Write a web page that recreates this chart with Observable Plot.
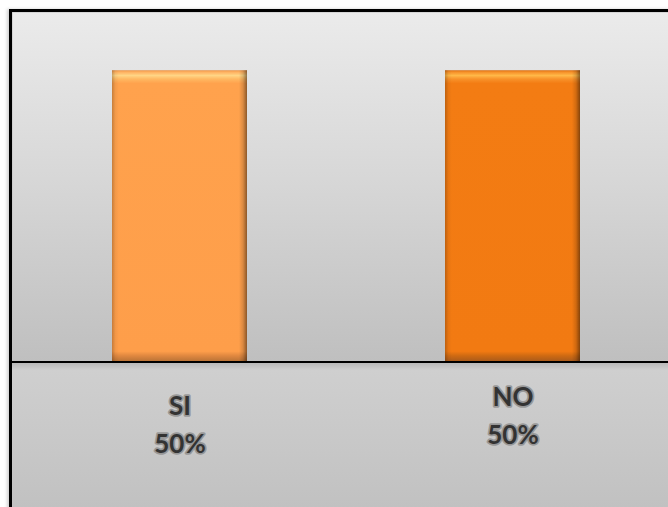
<!DOCTYPE html>
<html>
<head>
<meta charset="utf-8">
<script src="https://cdn.jsdelivr.net/npm/d3@7"></script>
<script src="https://cdn.jsdelivr.net/npm/@observablehq/plot@0.6"></script>
<style>
  html, body { margin: 0; padding: 0; background: #fff; }
  #page { position: relative; width: 668px; height: 507px; overflow: hidden; background: #fff; }
  #floor {
    position: absolute; left: 9px; top: 9px; width: 690px; height: 520px;
    border-left: 3px solid #000; border-top: 3px solid #000;
    box-shadow: -2px 0 3px rgba(0,0,0,0.18);
    background: linear-gradient(to bottom, #c0c0c0 0px, #c0c0c0 350px, #b9b9b9 351px, #cfcfcf 358px, #c9c9c9 420px, #c1c1c1 496px);
  }
  #chart { position: absolute; left: 0; top: 0; }
</style>
</head>
<body>
<div id="page">
  <div id="floor"></div>
  <div id="chart"></div>
</div>
<script>
const categories = ["SI", "NO"];
const values = [50, 50];
const valueLabels = ["50%", "50%"];

const data = categories.map((c, i) => ({category: c, value: values[i], label: c + "\n" + valueLabels[i]}));

const textStyle = {
  fontFamily: "Lato, 'Open Sans', sans-serif",
  fontWeight: "bold",
  fontSize: 26,
  lineHeight: 1.45,
  fill: "#333333",
  stroke: "#8f8f8f",
  strokeWidth: 3.5,
  strokeOpacity: 0.85,
  textAnchor: "middle",
  lineAnchor: "middle"
};

const svg = Plot.plot({
  width: 668,
  height: 507,
  marginLeft: 12,
  marginTop: 12,
  marginRight: 0,
  marginBottom: 145.5,
  style: {background: "transparent", overflow: "visible"},
  x: {domain: categories, range: [12, 679], paddingInner: 0.595, paddingOuter: 0.2975, axis: null},
  y: {domain: [0, 60], range: [361.5, 12], axis: null},
  marks: [
    Plot.frame({fill: "url(#wallGrad)", stroke: null}),
    Plot.barY(data, {x: "category", y: "value", fill: d => d.category === "SI" ? "url(#siGrad)" : "url(#noGrad)"}),
    Plot.barY(data, {x: "category", y: "value", fill: "url(#edgeGrad)"}),
    Plot.ruleY([0], {stroke: "#000", strokeWidth: 2}),
    Plot.text(data.filter(d => d.category === "SI"), {x: "category", y: 0, text: "label", dy: 60, ...textStyle}),
    Plot.text(data.filter(d => d.category === "NO"), {x: "category", y: 0, text: "label", dy: 51, ...textStyle})
  ]
});

svg.insertAdjacentHTML("afterbegin", `
<defs>
  <linearGradient id="wallGrad" x1="0" y1="0" x2="0" y2="1">
    <stop offset="0" stop-color="#ebebeb"/>
    <stop offset="0.5" stop-color="#d6d6d6"/>
    <stop offset="1" stop-color="#bfbfbf"/>
  </linearGradient>
  <linearGradient id="siGrad" x1="0" y1="0" x2="0" y2="1">
    <stop offset="0" stop-color="#e89448"/>
    <stop offset="0.006" stop-color="#ffb060"/>
    <stop offset="0.018" stop-color="#ffd585"/>
    <stop offset="0.03" stop-color="#ffb862"/>
    <stop offset="0.045" stop-color="#ffa24d"/>
    <stop offset="0.965" stop-color="#fe9e4a"/>
    <stop offset="0.98" stop-color="#e08840"/>
    <stop offset="1" stop-color="#b87236"/>
  </linearGradient>
  <linearGradient id="noGrad" x1="0" y1="0" x2="0" y2="1">
    <stop offset="0" stop-color="#d86e12"/>
    <stop offset="0.006" stop-color="#f69028"/>
    <stop offset="0.018" stop-color="#ffb848"/>
    <stop offset="0.03" stop-color="#f8922a"/>
    <stop offset="0.045" stop-color="#f37c13"/>
    <stop offset="0.965" stop-color="#f27a12"/>
    <stop offset="0.98" stop-color="#cf6a12"/>
    <stop offset="1" stop-color="#a85a1c"/>
  </linearGradient>
  <linearGradient id="edgeGrad" x1="0" y1="0" x2="1" y2="0">
    <stop offset="0" stop-color="#000" stop-opacity="0.22"/>
    <stop offset="0.025" stop-color="#000" stop-opacity="0.05"/>
    <stop offset="0.05" stop-color="#000" stop-opacity="0"/>
    <stop offset="0.94" stop-color="#000" stop-opacity="0"/>
    <stop offset="0.97" stop-color="#000" stop-opacity="0.14"/>
    <stop offset="1" stop-color="#000" stop-opacity="0.45"/>
  </linearGradient>
</defs>`);

document.getElementById("chart").appendChild(svg);
</script>
</body>
</html>
